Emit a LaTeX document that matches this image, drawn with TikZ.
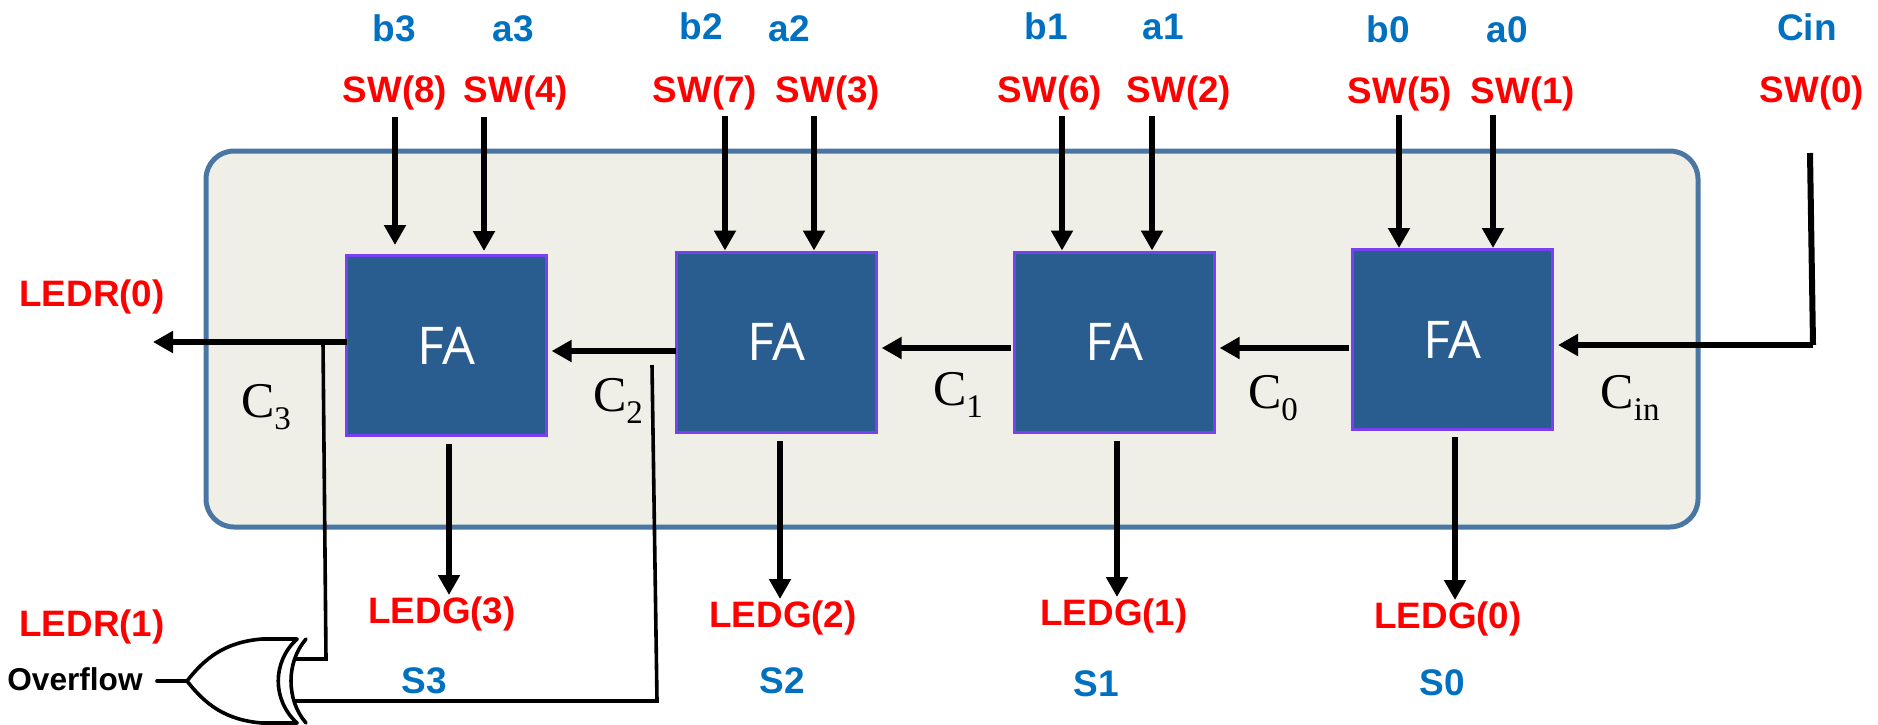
\documentclass[tikz,border=0pt]{standalone}
\usepackage{fontspec}
\setmainfont{Liberation Sans}
\newfontfamily\fafont{Open Sans}
\newfontfamily\timesf{Liberation Serif}
\usetikzlibrary{arrows.meta}
\definecolor{panelfill}{HTML}{EFEFE7}
\definecolor{panelline}{HTML}{4A76A3}
\definecolor{fablue}{HTML}{2A5D8F}
\definecolor{fapurple}{HTML}{7B3FF2}
\definecolor{labblue}{HTML}{0070C0}
\tikzset{
  x=0.5pt,y=-0.5pt,
  panel/.style={draw=panelline,fill=panelfill,line width=2.5pt,rounded corners=14pt,minimum width=746pt,minimum height=188pt,inner sep=0pt},
  fabox/.style={draw=fapurple,fill=fablue,line width=1.5pt,minimum width=100pt,minimum height=90pt,inner sep=0pt,text=white,font=\fafont\fontsize{26}{30}\selectfont},
  redlab/.style={text=red,inner sep=0pt,font=\bfseries\fontsize{18.4}{22}\selectfont,text height=14pt,text depth=2.6pt},
  bluelab/.style={text=labblue,inner sep=0pt,font=\bfseries\fontsize{18.5}{22}\selectfont,text height=13pt,text depth=0pt},
  blklab/.style={text=black,inner sep=0pt,font=\bfseries\fontsize{15.8}{20}\selectfont,text height=11.5pt,text depth=0pt},
  carry/.style={text=black,inner sep=0pt,font=\timesf\fontsize{25}{28}\selectfont},
  wire/.style={draw=black,line width=3pt},
  arr/.style={wire,-{Triangle[length=10pt,width=10.5pt]}},
  harr/.style={arr,shorten >=1.8pt},
  thin wire/.style={draw=black,line width=1.8pt},
  gate/.style={draw=black,line width=1.8pt,line cap=round},
}
\newcommand{\carrylab}[1]{C\raisebox{-6pt}{\fontsize{16.5}{18}\selectfont #1}}
\newcommand{\falab}{\raisebox{-2.2pt}{FA}}
\begin{document}
\begin{tikzpicture}
\path[use as bounding box] (0,0) rectangle (1878,724);
\node[panel] (pan) at (952,339) {};
\node[fabox] (fa3) at (446.5,345.5) {\falab};
\node[fabox] (fa2) at (776.5,342) {\falab};
\node[fabox] (fa1) at (1114.5,342) {\falab};
\node[fabox] (fa0) at (1452.5,339.5) {\falab};
% top labels
\node[bluelab] (lb3) at (394,28) {b3};
\node[bluelab] (la3) at (513,28) {a3};
\node[bluelab] (lb2) at (701,26) {b2};
\node[bluelab] (la2) at (789,28) {a2};
\node[bluelab] (lb1) at (1046,26) {b1};
\node[bluelab] (la1) at (1163,26) {a1};
\node[bluelab] (lb0) at (1388,29) {b0};
\node[bluelab] (la0) at (1507,29) {a0};
\node[bluelab] (lcin) at (1807,27) {Cin};
\node[redlab] (sw8) at (395,91) {SW(8)};
\node[redlab] (sw4) at (516,91) {SW(4)};
\node[redlab] (sw7) at (705,91) {SW(7)};
\node[redlab] (sw3) at (828,91) {SW(3)};
\node[redlab] (sw6) at (1050,91) {SW(6)};
\node[redlab] (sw2) at (1179,91) {SW(2)};
\node[redlab] (sw5) at (1400,92) {SW(5)};
\node[redlab] (sw1) at (1523,92) {SW(1)};
\node[redlab] (sw0) at (1812,91) {SW(0)};
% left labels
\node[redlab] (ledr0) at (92,295) {LEDR(0)};
\node[redlab] (ledr1) at (92,625) {LEDR(1)};
\node[blklab] (ovf) at (75,679) {Overflow};
% bottom labels
\node[redlab] (ledg3) at (442,612) {LEDG(3)};
\node[redlab] (ledg2) at (783,616) {LEDG(2)};
\node[redlab] (ledg1) at (1114,614) {LEDG(1)};
\node[redlab] (ledg0) at (1448,617) {LEDG(0)};
\node[bluelab] (s3) at (424,680) {S3};
\node[bluelab] (s2) at (782,680) {S2};
\node[bluelab] (s1) at (1096,683) {S1};
\node[bluelab] (s0) at (1442,682) {S0};
% carries
\node[carry] (c3) at (266,407) {\carrylab{3}};
\node[carry] (c2) at (618,401) {\carrylab{2}};
\node[carry] (c1) at (958,395) {\carrylab{1}};
\node[carry] (c0) at (1273,398) {\carrylab{0}};
\node[carry] (cin) at (1630,398) {\carrylab{in}};
% wire start points
\coordinate (b3) at (395,117);
\coordinate (a3) at (484,117);
\coordinate (b2) at (725,116);
\coordinate (a2) at (814,116);
\coordinate (b1) at (1062,116);
\coordinate (a1) at (1152,116);
\coordinate (b0) at (1399,115);
\coordinate (a0) at (1493,115);
% inputs
\draw[arr,shorten >=4.5pt] (b3) -- (b3 |- fa3.north);
\draw[arr,shorten >=1.5pt] (a3) -- (a3 |- fa3.north);
\draw[arr] (b2) -- (b2 |- fa2.north);
\draw[arr] (a2) -- (a2 |- fa2.north);
\draw[arr] (b1) -- (b1 |- fa1.north);
\draw[arr] (a1) -- (a1 |- fa1.north);
\draw[arr] (b0) -- (b0 |- fa0.north);
\draw[arr] (a0) -- (a0 |- fa0.north);
% outputs
\coordinate (o3) at (449,444);
\coordinate (o2) at (780,441);
\coordinate (o1) at (1117,441);
\coordinate (o0) at (1455,437);
\draw[arr] (o3) -- (o3 |- ledg3.north);
\draw[arr] (o2) -- (o2 |- ledg2.north);
\draw[arr] (o1) -- (o1 |- ledg1.north);
\draw[arr] (o0) -- (o0 |- ledg0.north);
% carries
\coordinate (cinTop) at (1810,153);
\coordinate (cinBot) at (1813,345);
\coordinate (y0) at (1349,348);
\coordinate (y1) at (1011,348);
\coordinate (y2) at (676,351);
\coordinate (y3) at (347,342);
\coordinate (cout) at (153,342);
\draw[wire] (cinTop) -- (cinBot);
\draw[arr,shorten >=2pt] (cinBot) -- (fa0.east |- cinBot);
\draw[harr] (y0) -- (fa1.east |- y0);
\draw[harr] (y1) -- (fa2.east |- y1);
\draw[harr] (y2) -- (fa3.east |- y2);
\draw[arr] (y3) -- (cout);
% overflow gate
\coordinate (gout) at (187,681);
\coordinate (gtip) at (157,681);
\coordinate (gA) at (295,659);
\coordinate (gB) at (295,701);
\coordinate (tapA) at (323,342);
\coordinate (tapAb) at (326,659);
\coordinate (tapB) at (652,365);
\coordinate (tapBb) at (657,701);
\draw[thin wire] (tapA) -- (tapAb) -- (gA);
\draw[thin wire] (tapB) -- (tapBb) -- (gB);
\draw[gate] (gtip) -- (gout);
\draw[gate] (297,639) -- (262,639) .. controls (225,642) and (205,658) .. (gout)
   .. controls (205,704) and (225,720) .. (262,723) -- (297,723);
\draw[gate] (297,639) .. controls (272,662) and (272,700) .. (297,723);
\draw[gate] (306,639) .. controls (286,662) and (286,700) .. (306,723);
\end{tikzpicture}
\end{document}
